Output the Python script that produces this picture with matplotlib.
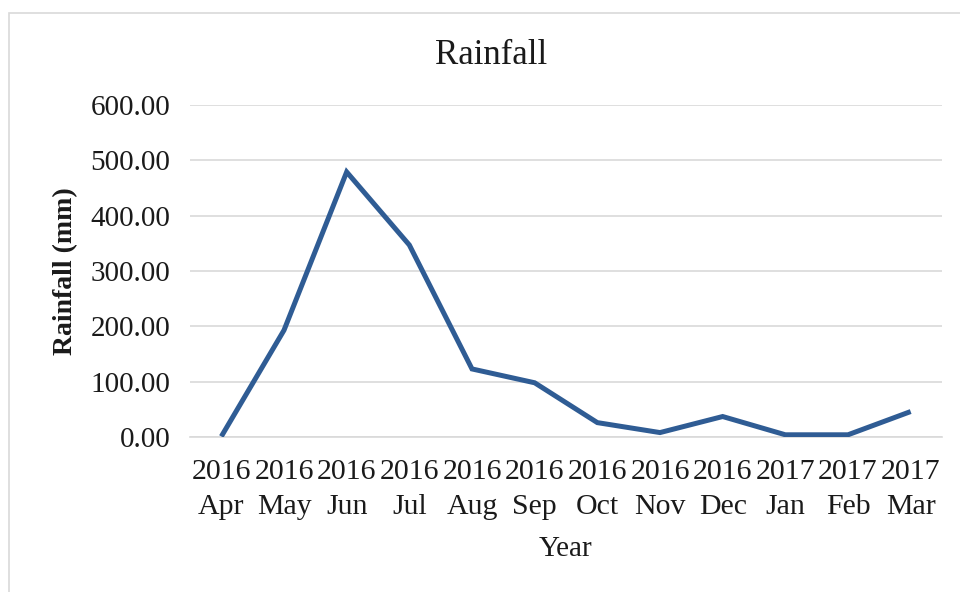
import matplotlib
matplotlib.use("Agg")
import matplotlib.pyplot as plt
from matplotlib.patches import Rectangle

years = ["2016", "2016", "2016", "2016", "2016", "2016", "2016", "2016", "2016", "2017", "2017", "2017"]
months = ["Apr", "May", "Jun", "Jul", "Aug", "Sep", "Oct", "Nov", "Dec", "Jan", "Feb", "Mar"]
rainfall_mm = [1, 193, 479, 347, 123, 98, 26, 8, 37, 4, 4, 46]
y_ticks = [0, 100, 200, 300, 400, 500, 600]

plt.rcParams["font.family"] = ["Liberation Serif", "DejaVu Serif"]

fig = plt.figure(figsize=(9.6, 5.92), dpi=100)
fig.patch.set_facecolor("white")

# outer chart border
fig.patches.append(Rectangle((9 / 960, -0.05), 1.1, 1 - 13 / 592 + 0.05,
                             transform=fig.transFigure, fill=False,
                             edgecolor="#d9d9d9", linewidth=1.2))

ax = fig.add_axes([190 / 960, 1 - 437 / 592, (942 - 190) / 960, (437 - 105) / 592])

x = list(range(len(months)))
ax.plot(x, rainfall_mm, color="#2f5c94", linewidth=3.6, solid_joinstyle="miter",
        solid_capstyle="butt", zorder=3)

ax.set_xlim(-0.5, len(months) - 0.5)
ax.set_ylim(0, 600)
ax.set_yticks(y_ticks)
ax.set_yticklabels([f"{v:.2f}" for v in y_ticks])
ax.set_xticks(x)
ax.set_xticklabels([f"{y}\n{m}" for y, m in zip(years, months)], linespacing=1.42)

ax.grid(axis="y", color="#d9d9d9", linewidth=1.2)
ax.set_axisbelow(True)
for side in ["top", "right", "left"]:
    ax.spines[side].set_visible(False)
ax.spines["bottom"].set_color("#d9d9d9")
ax.spines["bottom"].set_linewidth(1.2)

ax.tick_params(axis="y", length=0, pad=14, labelsize=21, colors="#1a1a1a")
ax.tick_params(axis="x", length=0, pad=16, labelsize=21.5, colors="#1a1a1a")

fig.text(491 / 960, 1 - 55 / 592, "Rainfall", fontsize=25, color="#1a1a1a",
         ha="center", va="center")
ax.set_ylabel("Rainfall (mm)", fontsize=20, fontweight="bold", labelpad=9, color="#1a1a1a")
ax.set_xlabel("Year", fontsize=21, labelpad=12, color="#1a1a1a")

fig.savefig("out.png", dpi=100, facecolor="white")
